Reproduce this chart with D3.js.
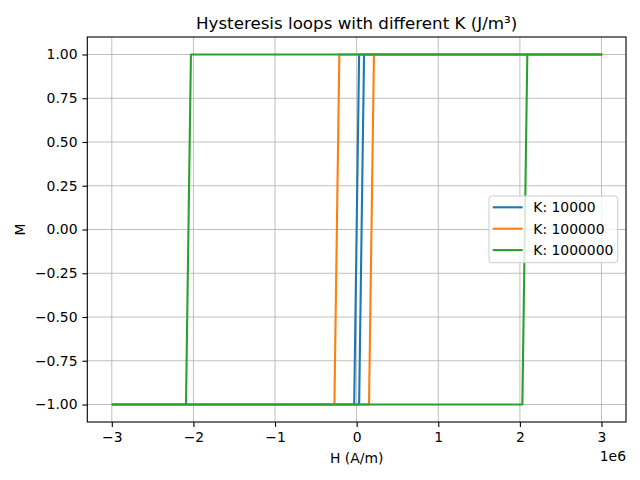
<!DOCTYPE html>
<html lang="en">
<head>
    <meta charset="UTF-8">
    <title>Hysteresis loops</title>
    <script src="https://d3js.org/d3.v7.min.js"></script>
    <style>
        body { margin: 0; background: #fff; }
        text { font-family: "DejaVu Sans", sans-serif; fill: #000; }
    </style>
</head>
<body>
    <script>
        // legend labels
        const seriesLabels = ["K: 10000", "K: 100000", "K: 1000000"];
        const seriesColors = ["#1f77b4", "#ff7f0e", "#2ca02c"];

        // corner points of each loop (H in A/m): rising branch then falling branch
        const hK1 = [-3000000, 30300, 90900, 3000000, 30300, -30300, -3000000];
        const mK1 = [-1, -1, 1, 1, 1, -1, -1];
        const hK2 = [-3000000, 151500, 212100, 3000000, -212100, -272700, -3000000];
        const mK2 = [-1, -1, 1, 1, 1, -1, -1];
        const hK3 = [-3000000, 2030300, 2090900, 3000000, -2030300, -2090900, -3000000];
        const mK3 = [-1, -1, 1, 1, 1, -1, -1];

        const xTicks = [-3e6, -2e6, -1e6, 0, 1e6, 2e6, 3e6];
        const yTicks = [-1, -0.75, -0.5, -0.25, 0, 0.25, 0.5, 0.75, 1];

        const seriesH = [hK1, hK2, hK3];
        const seriesM = [mK1, mK2, mK3];

        const width = 640, height = 480;
        const plotLeft = 87.3, plotRight = 626, plotTop = 37, plotBottom = 422;

        const svg = d3.select("body").append("svg")
            .attr("width", width)
            .attr("height", height);

        const x = d3.scaleLinear().domain([-3.3e6, 3.3e6]).range([plotLeft, plotRight]);
        const y = d3.scaleLinear().domain([-1.1, 1.1]).range([plotBottom, plotTop]);

        const minus = s => s.replace("-", "\u2212");

        // grid
        const grid = svg.append("g");
        grid.selectAll(".gx").data(xTicks).join("line")
            .attr("class", "gx")
            .attr("x1", d => x(d)).attr("x2", d => x(d))
            .attr("y1", plotTop).attr("y2", plotBottom)
            .attr("stroke", "#b0b0b0").attr("stroke-width", 0.8);
        grid.selectAll(".gy").data(yTicks).join("line")
            .attr("class", "gy")
            .attr("x1", plotLeft).attr("x2", plotRight)
            .attr("y1", d => y(d)).attr("y2", d => y(d))
            .attr("stroke", "#b0b0b0").attr("stroke-width", 0.8);

        // loops
        const line = d3.line().x(d => x(d[0])).y(d => y(d[1]));
        svg.append("g").selectAll("path")
            .data(seriesH.map((h, i) => h.map((v, j) => [v, seriesM[i][j]])))
            .join("path")
            .attr("d", line)
            .attr("fill", "none")
            .attr("stroke", (d, i) => seriesColors[i])
            .attr("stroke-width", 2.1)
            .attr("stroke-linejoin", "round");

        // axes
        const xAxis = d3.axisBottom(x).tickValues(xTicks)
            .tickFormat(d => minus(d3.format("d")(d / 1e6)))
            .tickSizeInner(4.9).tickSizeOuter(0).tickPadding(4.9);
        const yAxis = d3.axisLeft(y).tickValues(yTicks)
            .tickFormat(d => minus(d3.format(".2f")(d)))
            .tickSizeInner(4.9).tickSizeOuter(0).tickPadding(4.9);

        const gx = svg.append("g").attr("transform", `translate(0,${plotBottom})`).call(xAxis);
        const gy = svg.append("g").attr("transform", `translate(${plotLeft},0)`).call(yAxis);
        [gx, gy].forEach(g => {
            g.select(".domain").remove();
            g.selectAll("line").attr("stroke", "#000").attr("stroke-width", 1.1);
            g.selectAll("text").style("font-family", "DejaVu Sans").style("font-size", "13.9px").attr("fill", "#000");
        });

        // frame
        svg.append("rect")
            .attr("x", plotLeft).attr("y", plotTop)
            .attr("width", plotRight - plotLeft).attr("height", plotBottom - plotTop)
            .attr("fill", "none").attr("stroke", "#000").attr("stroke-width", 1.1);

        // titles
        svg.append("text")
            .attr("x", (plotLeft + plotRight) / 2).attr("y", 29)
            .attr("text-anchor", "middle")
            .style("font-size", "16.7px")
            .text("Hysteresis loops with different K (J/m³)");

        svg.append("text")
            .attr("x", (plotLeft + plotRight) / 2).attr("y", 463)
            .attr("text-anchor", "middle")
            .style("font-size", "13.9px")
            .text("H (A/m)");

        svg.append("text")
            .attr("transform", `translate(25,${(plotTop + plotBottom) / 2}) rotate(-90)`)
            .attr("text-anchor", "middle")
            .style("font-size", "13.9px")
            .text("M");

        svg.append("text")
            .attr("x", plotRight).attr("y", 461)
            .attr("text-anchor", "end")
            .style("font-size", "13.9px")
            .text("1e6");

        // legend
        const legend = svg.append("g");
        legend.append("rect")
            .attr("x", 489).attr("y", 196)
            .attr("width", 128.7).attr("height", 66.7)
            .attr("rx", 2.8)
            .attr("fill", "#fff").attr("fill-opacity", 0.8)
            .attr("stroke", "#cccccc").attr("stroke-width", 1);
        const rows = legend.selectAll("g.row").data(seriesLabels).join("g")
            .attr("class", "row")
            .attr("transform", (d, i) => `translate(0,${207.3 + i * 21.4})`);
        rows.append("line")
            .attr("x1", 492.7).attr("x2", 522.7)
            .attr("stroke", (d, i) => seriesColors[i])
            .attr("stroke-width", 2.1);
        rows.append("text")
            .attr("x", 533.3).attr("dy", "0.35em")
            .style("font-size", "13.9px")
            .text(d => d);
    </script>
</body>
</html>
